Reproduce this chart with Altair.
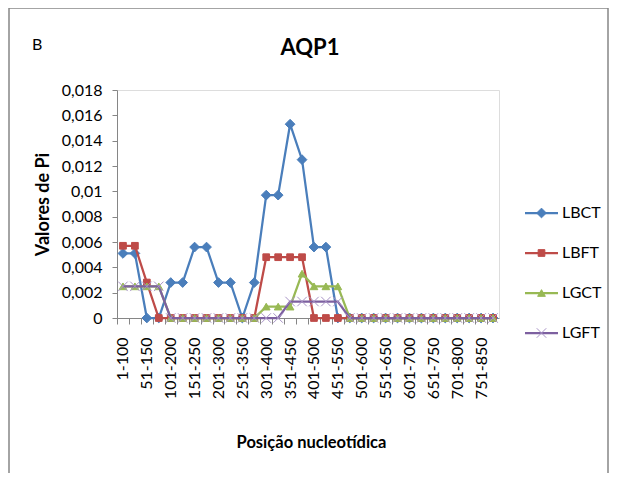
import altair as alt
import pandas as pd

# ---------------- data ----------------
categories = [
    "1-100", "26-125", "51-150", "76-175", "101-200", "126-225", "151-250", "176-275",
    "201-300", "226-325", "251-350", "276-375", "301-400", "326-425", "351-450", "376-475",
    "401-500", "426-525", "451-550", "476-575", "501-600", "526-625", "551-650", "576-675",
    "601-700", "626-725", "651-750", "676-775", "701-800", "726-825", "751-850", "776-875",
]
shown_labels = [
    "1-100", "51-150", "101-200", "151-250", "201-300", "251-350", "301-400", "351-450",
    "401-500", "451-550", "501-600", "551-650", "601-700", "651-750", "701-800", "751-850",
]
series_names = ["LBCT", "LBFT", "LGCT", "LGFT"]

lbct = [0.0051, 0.0051, 0, 0, 0.0028, 0.0028, 0.0056, 0.0056,
        0.0028, 0.0028, 0, 0.0028, 0.0097, 0.0097, 0.0153, 0.0125,
        0.0056, 0.0056, 0, 0, 0, 0, 0, 0,
        0, 0, 0, 0, 0, 0, 0, 0]
lbft = [0.0057, 0.0057, 0.0028, 0, 0, 0, 0, 0,
        0, 0, 0, 0, 0.0048, 0.0048, 0.0048, 0.0048,
        0, 0, 0, 0, 0, 0, 0, 0,
        0, 0, 0, 0, 0, 0, 0, 0]
lgct = [0.0025, 0.0025, 0.0025, 0.0025, 0, 0, 0, 0,
        0, 0, 0, 0, 0.0009, 0.0009, 0.0009, 0.0035,
        0.0025, 0.0025, 0.0025, 0, 0, 0, 0, 0,
        0, 0, 0, 0, 0, 0, 0, 0]
lgft = [0.0025, 0.0025, 0.0025, 0.0025, 0, 0, 0, 0,
        0, 0, 0, 0, 0, 0, 0.0013, 0.0013,
        0.0013, 0.0013, 0.0013, 0, 0, 0, 0, 0,
        0, 0, 0, 0, 0, 0, 0, 0]
y_ticks = [0, 0.002, 0.004, 0.006, 0.008, 0.01, 0.012, 0.014, 0.016, 0.018]

chart_title = "AQP1"
panel_letter = "B"
x_title = "Posição nucleotídica"
y_title = "Valores de Pi"

# ---------------- styling ----------------
FONT = "Lato"
colors = ["#4A7EBB", "#BE4B48", "#98B954", "#7D60A0"]
marker_shapes = ["diamond", "square", "triangle-up", "M-1,-1L1,1M-1,1L1,-1"]
marker_sizes = [95, 45, 60, 90]
marker_fills = ["#4A7EBB", "#BE4B48", "#98B954", "transparent"]
marker_strokes = ["#4A7EBB", "#BE4B48", "#98B954", "#A893C6"]
AXIS_GREY = "#868686"

values_by_series = [lbct, lbft, lgct, lgft]
rows = []
for name, vals in zip(series_names, values_by_series):
    for cat, v in zip(categories, vals):
        rows.append({"series": name, "window": cat, "pi": v})
df = pd.DataFrame(rows)

W, H = 382, 228
step = W / len(categories)

shown_js = "[" + ",".join("'" + s + "'" for s in shown_labels) + "]"

x_enc = alt.X(
    "window:N",
    sort=categories,
    scale=alt.Scale(type="point", domain=categories, padding=0.5),
    axis=alt.Axis(
        title=x_title,
        labelAngle=-90,
        labelExpr=f"indexof({shown_js}, datum.label) >= 0 ? datum.label : ''",
        tickOffset=-step / 2,
        labelOffset=step / 2,
        tickSize=6,
        labelPadding=13,
        labelFontSize=16,
        labelFont=FONT,
        labelColor="black",
        labelOverlap=False,
        domainColor=AXIS_GREY,
        tickColor=AXIS_GREY,
        grid=False,
        titleFont=FONT,
        titleFontSize=16.5,
        titleFontWeight="bold",
        titleColor="black",
        titleX=W / 2 + 3,
        titleY=124,
        titleAlign="center",
        titleBaseline="middle",
    ),
)
y_enc = alt.Y(
    "pi:Q",
    scale=alt.Scale(domain=[0, 0.018], nice=False, zero=True),
    axis=alt.Axis(
        values=y_ticks,
        labelExpr="replace(toString(datum.value), '.', ',')",
        tickSize=5,
        labelPadding=10,
        labelFontSize=16,
        labelFont=FONT,
        labelColor="black",
        domainColor=AXIS_GREY,
        tickColor=AXIS_GREY,
        grid=False,
        title=y_title,
        titleFont=FONT,
        titleFontSize=18,
        titleFontWeight="bold",
        titleColor="black",
        titleAngle=-90,
        titleX=-74,
        titleY=114,
        titleAlign="center",
        titleBaseline="middle",
    ),
)

base = alt.Chart(df)

# frame around the chart area (decoration)
frame = alt.Chart(pd.DataFrame({"f": [0]})).mark_rect(
    fillOpacity=0, stroke=AXIS_GREY, strokeWidth=1.5
).encode(x=alt.value(-108), x2=alt.value(491), y=alt.value(-82), y2=alt.value(400))

letter = alt.Chart(pd.DataFrame({"t": [panel_letter]})).mark_text(
    align="left", baseline="alphabetic", font=FONT, fontSize=16, color="black"
).encode(x=alt.value(-85), y=alt.value(-40), text="t:N")

title_mark = alt.Chart(pd.DataFrame({"t": [chart_title]})).mark_text(
    align="center", baseline="alphabetic", font=FONT, fontSize=22, fontWeight="bold", color="black"
).encode(x=alt.value(W / 2 + 2), y=alt.value(-35), text="t:N")

layers = [frame, letter, title_mark]
for i, name in enumerate(series_names):
    sub = base.transform_filter(alt.datum.series == name)
    layers.append(
        sub.mark_line(color=colors[i], strokeWidth=2.25).encode(x=x_enc, y=y_enc)
    )
    layers.append(
        sub.mark_point(
            shape=marker_shapes[i], size=marker_sizes[i], filled=True,
            fill=marker_fills[i], stroke=marker_strokes[i], strokeWidth=1, opacity=1
        ).encode(x=x_enc, y=y_enc)
    )

# legend (decoration), drawn from the series names
leg_x0, leg_x1, leg_tx = 408, 441, 445
leg_y0, leg_dy = 123, 40
for i, name in enumerate(series_names):
    ly = leg_y0 + leg_dy * i
    ldf = pd.DataFrame({"series": [name]})
    lc = alt.Chart(ldf)
    layers.append(
        lc.mark_rule(color=colors[i], strokeWidth=2.25).encode(
            x=alt.value(leg_x0), x2=alt.value(leg_x1), y=alt.value(ly)
        )
    )
    layers.append(
        lc.mark_point(
            shape=marker_shapes[i], size=marker_sizes[i], filled=True,
            fill=marker_fills[i], stroke=marker_strokes[i], strokeWidth=1, opacity=1
        ).encode(x=alt.value((leg_x0 + leg_x1) / 2), y=alt.value(ly))
    )
    layers.append(
        lc.mark_text(align="left", baseline="middle", font=FONT, fontSize=16, color="black").encode(
            x=alt.value(leg_tx), y=alt.value(ly), text="series:N"
        )
    )

chart = alt.layer(*layers).properties(
    width=W,
    height=H,
    padding={"left": 109, "top": 82, "right": 111, "bottom": 155},
    autosize=alt.AutoSizeParams(type="none"),
).configure_view(strokeWidth=0).configure(background="white")

chart.save("out.html", embed_options={"renderer": "svg", "actions": False})
